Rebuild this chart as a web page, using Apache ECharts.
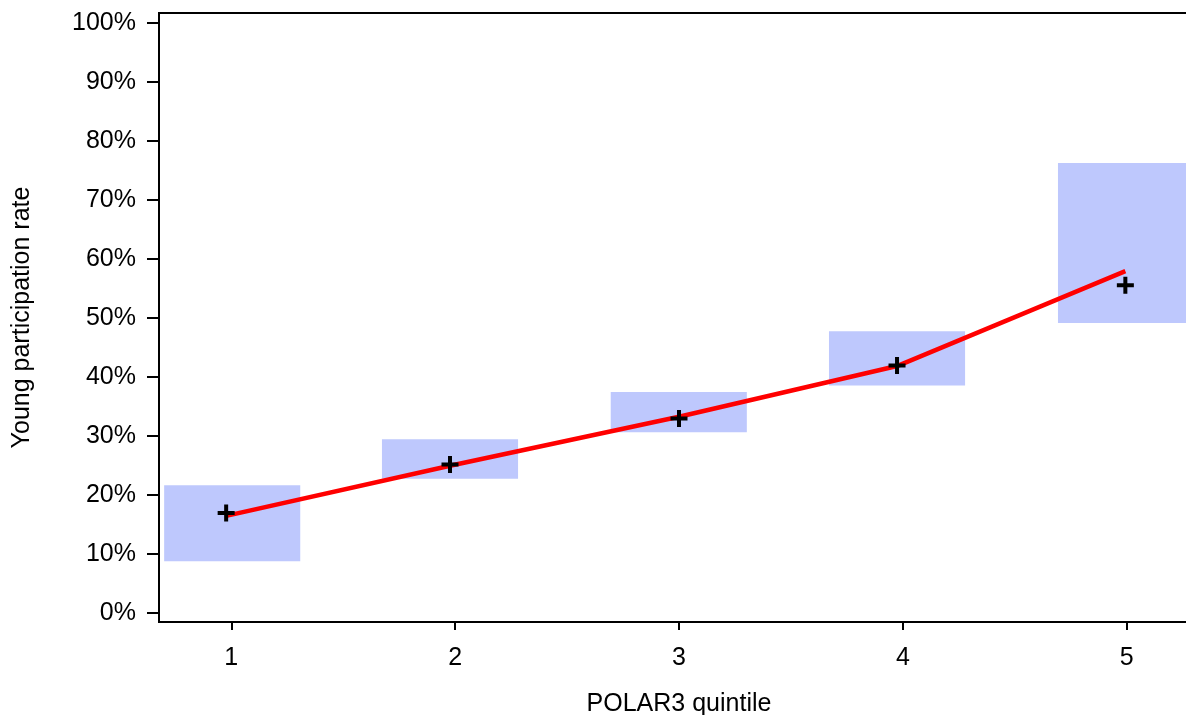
<!DOCTYPE html>
<html>
<head>
<meta charset="utf-8">
<script src="https://cdn.jsdelivr.net/npm/echarts@6/dist/echarts.min.js"></script>
<style>
html,body{margin:0;padding:0;background:#fff;}
#chart{width:1186px;height:715px;}
</style>
</head>
<body>
<div id="chart"></div>
<script>
// Data
const quintiles = [1, 2, 3, 4, 5];
const boxCentres = [1.004, 1.977, 2.999, 3.974, 4.997];
const boxLow = [8.7, 22.7, 30.6, 38.5, 49.1];
const boxHigh = [21.6, 29.4, 37.4, 47.7, 76.2];
const boxHalfWidth = 0.304;
const crossX = [0.977, 1.977, 3.0, 3.974, 4.994];
const crossY = [16.9, 25.1, 32.9, 41.9, 55.5];
const lineX = [0.977, 1.977, 3.0, 3.974, 4.994];
const lineY = [16.4, 24.9, 33.2, 41.8, 57.9];
const yTicks = [0, 10, 20, 30, 40, 50, 60, 70, 80, 90, 100];

const font = '"Liberation Sans", Arial, Helvetica, sans-serif';

const boxData = boxCentres.map((c, i) => [c, boxLow[i], boxHigh[i]]);
const crossData = crossX.map((x, i) => [x, crossY[i]]);
const lineData = lineX.map((x, i) => [x, lineY[i]]);

const chart = echarts.init(document.getElementById('chart'), null, {renderer: 'canvas'});
chart.setOption({
  animation: false,
  backgroundColor: '#ffffff',
  grid: {
    left: 159, top: 13, right: -13, bottom: 93,
    outerBoundsMode: 'none',
    containLabel: false,
    show: true, borderColor: '#000', borderWidth: 2, backgroundColor: 'transparent'
  },
  xAxis: {
    type: 'value',
    min: 0.677, max: 5.323,
    splitLine: {show: false},
    axisLine: {show: true, onZero: false, lineStyle: {color: '#000', width: 2}},
    axisTick: {show: true, length: 8, lineStyle: {color: '#000', width: 2}, customValues: quintiles},
    axisLabel: {customValues: quintiles, color: '#000', fontSize: 25, fontFamily: font, margin: 24},
    name: 'POLAR3 quintile',
    nameLocation: 'middle',
    nameGap: 70,
    nameTextStyle: {color: '#000', fontSize: 25, fontFamily: font}
  },
  yAxis: {
    type: 'value',
    min: -1.58, max: 101.64,
    splitLine: {show: false},
    axisLine: {show: true, onZero: false, lineStyle: {color: '#000', width: 2}},
    axisTick: {show: true, length: 12, lineStyle: {color: '#000', width: 2}, customValues: yTicks},
    axisLabel: {customValues: yTicks, formatter: '{value}%', color: '#000', fontSize: 25, fontFamily: font, margin: 23},
    name: 'Young participation rate',
    nameLocation: 'middle',
    nameRotate: 90,
    nameGap: 124,
    nameTextStyle: {color: '#000', fontSize: 25, fontFamily: font}
  },
  series: [
    {
      type: 'custom',
      name: 'range',
      data: boxData,
      z: 1,
      renderItem: function (params, api) {
        const c = api.value(0), lo = api.value(1), hi = api.value(2);
        const p1 = api.coord([c - boxHalfWidth, hi]);
        const p2 = api.coord([c + boxHalfWidth, lo]);
        return {
          type: 'rect',
          shape: {x: p1[0], y: p1[1], width: p2[0] - p1[0], height: p2[1] - p1[1]},
          style: {fill: '#bec8fd'}
        };
      }
    },
    {
      type: 'line',
      name: 'trend',
      data: lineData,
      z: 2,
      symbol: 'none',
      lineStyle: {color: '#ff0000', width: 4.5}
    },
    {
      type: 'scatter',
      name: 'observed',
      data: crossData,
      z: 3,
      symbol: 'path://M6.5,0h4v17h-4z M0,6.5h17v4h-17z',
      symbolSize: 17,
      itemStyle: {color: '#000', opacity: 1}
    }
  ]
});
</script>
</body>
</html>
